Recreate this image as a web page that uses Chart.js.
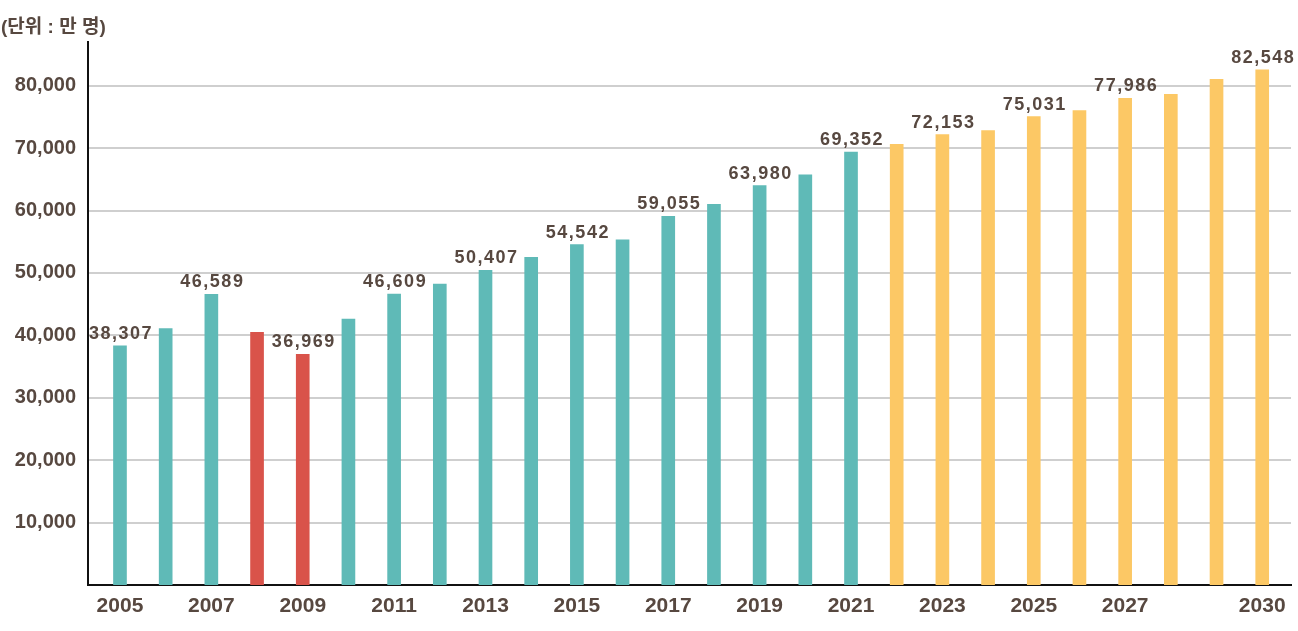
<!DOCTYPE html>
<html>
    <head>
        <title>Chart</title>
        <script src="https://cdn.jsdelivr.net/npm/chart.js@4/dist/chart.umd.min.js"></script>
        <style>
            body { margin: 0; background: #fff; }
            #wrap { width: 1298px; height: 631px; }
        </style>
    </head>
    <body>
        <div id="wrap"><canvas id="chart"></canvas></div>

        <script>
            // 연도별 값 (단위: 만 명)
            const years = [
                2005, 2006, 2007, 2008, 2009, 2010, 2011, 2012, 2013, 2014, 2015, 2016, 2017,
                2018, 2019, 2020, 2021, 2022, 2023, 2024, 2025, 2026, 2027, 2028, 2029, 2030,
            ]
            const values = [
                38307, 41100, 46589, 40500, 36969, 42600, 46609, 48200, 50407, 52500, 54542, 55300, 59055,
                61000, 63980, 65700, 69352, 70600, 72153, 72800, 75031, 76000, 77986, 78600, 81000, 82548,
            ]
            const labelYears = [2005, 2007, 2009, 2011, 2013, 2015, 2017, 2019, 2021, 2023, 2025, 2027, 2030]
            const xTickYears = [2005, 2007, 2009, 2011, 2013, 2015, 2017, 2019, 2021, 2023, 2025, 2027, 2030]
            const yTicks = [10000, 20000, 30000, 40000, 50000, 60000, 70000, 80000]
            const downYears = [2008, 2009]
            const forecastFrom = 2022

            const textColor = '#574840'
            const font = '"Liberation Sans", "Noto Sans CJK KR", sans-serif'
            const fmt = v => v.toLocaleString('en-US')

            const barColor = yr =>
                downYears.includes(yr) ? '#d9534a' : yr >= forecastFrom ? '#fcc865' : '#5fbab7'

            const labelPlugin = {
                id: 'valueLabels',
                afterDatasetsDraw(chart) {
                    const ctx = chart.ctx
                    const meta = chart.getDatasetMeta(0)
                    ctx.save()
                    ctx.font = 'bold 18px ' + font
                    ctx.letterSpacing = '1.5px'
                    ctx.fillStyle = textColor
                    ctx.textAlign = 'center'
                    ctx.textBaseline = 'alphabetic'
                    labelYears.forEach(yr => {
                        const i = years.indexOf(yr)
                        const bar = meta.data[i]
                        ctx.fillText(fmt(values[i]), bar.x + 1, bar.y - 7)
                    })
                    ctx.restore()
                },
                afterDraw(chart) {
                    // 단위 표기
                    const ctx = chart.ctx
                    ctx.save()
                    ctx.font = 'bold 19px ' + font
                    ctx.fillStyle = textColor
                    ctx.textAlign = 'left'
                    ctx.textBaseline = 'middle'
                    ctx.fillText('(단위 : 만 명)', 1, 28)
                    ctx.restore()
                },
            }

            const chart = new Chart('chart', {
                type: 'bar',
                data: {
                    datasets: [
                        {
                            data: years.map((yr, i) => ({ x: yr, y: values[i] })),
                            backgroundColor: c => barColor(years[c.dataIndex]),
                            barThickness: 13,
                        },
                    ],
                },
                plugins: [labelPlugin],
                options: {
                    responsive: true,
                    maintainAspectRatio: false,
                    animation: false,
                    layout: { padding: { top: 42, right: 7, left: 0, bottom: 0 } },
                    plugins: {
                        legend: { display: false },
                        tooltip: { enabled: false },
                    },
                    scales: {
                        x: {
                            type: 'linear',
                            min: 2004.3,
                            max: 2030.63,
                            offset: false,
                            grid: { display: false, offset: false },
                            border: { color: '#111', width: 2 },
                            afterBuildTicks: axis => {
                                axis.ticks = xTickYears.map(v => ({ value: v }))
                            },
                            afterFit: axis => {
                                axis.height = 46
                            },
                            ticks: {
                                autoSkip: false,
                                maxRotation: 0,
                                padding: 1,
                                color: textColor,
                                font: { family: font, size: 21, weight: 'bold' },
                                callback: v => String(v),
                            },
                        },
                        y: {
                            min: 0,
                            max: 87000,
                            grid: { color: '#cfcfcf', lineWidth: 2, drawTicks: false },
                            border: { color: '#111', width: 2 },
                            afterBuildTicks: axis => {
                                axis.ticks = yTicks.map(v => ({ value: v }))
                            },
                            afterFit: axis => {
                                axis.width = 88
                            },
                            ticks: {
                                padding: 12,
                                color: textColor,
                                font: { family: font, size: 20, weight: 'bold' },
                                callback: v => fmt(v),
                            },
                        },
                    },
                },
            })
        </script>
    </body>
</html>
